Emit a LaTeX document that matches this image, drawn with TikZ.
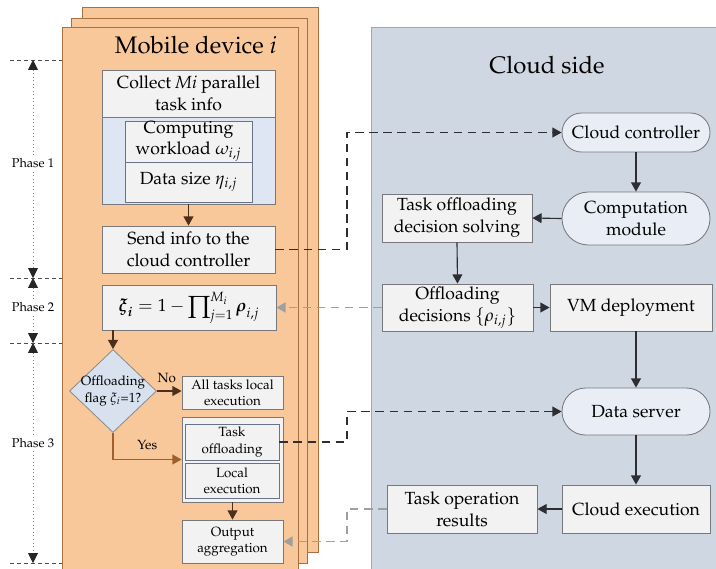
\documentclass[tikz,border=0pt]{standalone}
\usepackage{amsmath}
\usepackage[T1]{fontenc}
\usepackage{mathpazo}
\usetikzlibrary{arrows.meta,shapes.geometric,shapes.misc}

\definecolor{devfill}{RGB}{248,199,154}
\definecolor{devedge}{RGB}{168,112,62}
\definecolor{cloudfill}{RGB}{207,215,227}
\definecolor{cloudedge}{RGB}{160,166,178}
\definecolor{boxfill}{RGB}{242,242,243}
\definecolor{boxedge}{RGB}{120,120,122}
\definecolor{infoblue}{RGB}{221,230,242}
\definecolor{inedge}{RGB}{105,115,135}
\definecolor{flagfill}{RGB}{216,225,238}
\definecolor{podfill}{RGB}{233,238,246}
\definecolor{arrowdark}{RGB}{45,45,50}
\definecolor{arrowbrown}{RGB}{75,48,28}
\definecolor{yesbrown}{RGB}{160,96,45}

\begin{document}
\begin{tikzpicture}[x=0.025cm,y=-0.025cm,>={Triangle[length=6.5pt,width=7pt]},
  boxsize/.style 2 args={minimum width=#1*0.025cm,minimum height=#2*0.025cm},
  box/.style={draw=boxedge,fill=boxfill,line width=0.6pt,align=center,inner sep=0pt,
    font=\fontsize{12.5}{15.5}\selectfont},
  smallbox/.style={box,font=\fontsize{9.5}{11.5}\selectfont},
  inbox/.style={draw=inedge,fill=boxfill,line width=0.6pt,align=center,inner sep=0pt},
  pod/.style={box,fill=podfill,rounded rectangle},
  flow/.style={->,draw=arrowdark,line width=0.8pt},
  devflow/.style={flow,draw=arrowbrown},
  ask/.style={->,dash pattern=on 6pt off 4pt,line width=0.8pt,draw=arrowdark},
  reply/.style={->,dash pattern=on 6pt off 4pt,line width=1.4pt,draw=gray!75},
  phaseline/.style={dash pattern=on 3pt off 2pt,draw=gray!60!black,line width=0.6pt},
  phasespan/.style={{Triangle[length=7pt,width=7pt,color=black!85]}-{Triangle[length=7pt,width=7pt,color=black!85]},
    dotted,draw=gray,line width=0.5pt},
  phaselabel/.style={fill=white,inner sep=1pt,font=\fontsize{9}{10}\selectfont}]
  \useasboundingbox (0,0) rectangle (716,568);

  % stacked mobile devices, back to front
  \foreach \d in {20,9,0}
    \draw[draw=devedge,fill=devfill,line width=0.6pt] (62+\d,27-\d) rectangle (298+\d,572-\d);
  \node[font=\fontsize{17}{20}\selectfont] (devtitle) at (196,45) {Mobile device $i$};

  % cloud panel
  \draw[draw=cloudedge,fill=cloudfill,line width=0.6pt] (371,27) rectangle (725,575);
  \node[font=\fontsize{17}{20}\selectfont] (cloudtitle) at (547,65) {Cloud side};

  % phases
  \foreach \y in {60,278,343,563}
    \draw[phaseline] (10,\y) -- (62,\y);
  \draw[phasespan] (33,60) -- (33,278);
  \draw[phasespan] (33,278) -- (33,343);
  \draw[phasespan] (33,343) -- (33,563);
  \node[phaselabel] (phase1) at (33,163) {Phase 1};
  \node[phaselabel] (phase2) at (33,307) {Phase 2};
  \node[phaselabel] (phase3) at (33,443) {Phase 3};

  % device side
  \node[draw=boxedge,fill=infoblue,line width=0.6pt,boxsize={173}{134}] (info) at (188.5,137) {};
  \node[box,boxsize={173}{47}] (collect) at (188.5,93.5) {Collect \textit{Mi} parallel\\task info};
  \node[inbox,boxsize={127}{41},font=\fontsize{12.5}{14.5}\selectfont] (workload) at (188.5,141.5) {Computing\\workload $\omega_{i,j}$};
  \node[inbox,boxsize={127}{40},font=\fontsize{12.5}{14.5}\selectfont] (datasize) at (188.5,182) {Data size $\eta_{i,j}$};
  \node[box,boxsize={173}{47}] (send) at (188.5,249.5) {Send info to the\\cloud controller};
  \node[box,boxsize={174}{45}] (xi) at (189,307.5)
    {$\displaystyle\boldsymbol{\xi}_{\boldsymbol{i}}=1-\prod\nolimits_{j=1}^{M_i}\boldsymbol{\rho}_{i,j}$};
  \node[diamond,draw=gray!90,fill=flagfill,line width=0.6pt,inner sep=0pt,boxsize={87}{83},
    label={[align=center,font=\fontsize{9.5}{11.5}\selectfont]center:Offloading\\flag $\xi_i$=1?}] (flag) at (113,391) {};
  \node[smallbox,boxsize={101}{33}] (alltasks) at (232.5,392.5) {All tasks local\\execution};
  \node[box,boxsize={101}{85}] (offgrp) at (232.5,459.5) {};
  \node[inbox,boxsize={94}{36},font=\fontsize{9.5}{11.5}\selectfont] (taskoff) at (232,442) {Task\\offloading};
  \node[inbox,boxsize={94}{35},font=\fontsize{9.5}{11.5}\selectfont] (localexe) at (232,480.5) {Local\\execution};
  \node[smallbox,boxsize={101}{43}] (output) at (232.5,541.5) {Output\\aggregation};

  \draw[devflow] (info.south) -- (send.north);
  \draw[devflow] (xi.south -| flag.north) -- (flag.north);
  \draw[devflow] (flag.east) -- (flag.east -| alltasks.west)
    node[pos=0.4,above=2pt,font=\fontsize{9.5}{11}\selectfont] {No};
  \draw[->,draw=yesbrown,line width=0.9pt] (flag.south) |- (offgrp.west)
    node[pos=0.75,above=3pt,font=\fontsize{9.5}{11}\selectfont] {Yes};
  \draw[devflow] (offgrp.south) -- (output.north);

  % cloud side
  \node[pod,boxsize={148}{39}] (ctrl) at (636,132.5) {Cloud controller};
  \node[pod,boxsize={148}{53}] (comp) at (636,218.5) {Computation\\module};
  \node[box,boxsize={150}{48}] (solve) at (457,218) {Task offloading\\decision solving};
  \node[box,boxsize={151}{47}] (decis) at (457.5,307.5) {Offloading\\decisions $\{\rho_{i,j}\}$};
  \node[box,boxsize={162}{47}] (vm) at (631,307.5) {VM deployment};
  \node[pod,boxsize={148}{47}] (dserv) at (636,411.5) {Data server};
  \node[box,boxsize={148}{48}] (cexec) at (636,509) {Cloud execution};
  \node[box,boxsize={150}{48}] (tres) at (462,509) {Task operation\\results};

  \draw[flow] (ctrl.south) -- (comp.north);
  \draw[flow] (comp.west) -- (solve.east);
  \draw[flow] (solve.south) -- (decis.north);
  \draw[flow] (decis.east) -- (vm.west);
  \draw[flow] (dserv.north |- vm.south) -- (dserv.north);
  \draw[flow] (dserv.south) -- (cexec.north);
  \draw[flow] (cexec.west) -- (tres.east);

  % messages between device and cloud
  \coordinate (bend) at (347,0);
  \draw[ask] (send.east) -- (send.east -| bend) |- (ctrl.west);
  \draw[ask] (taskoff.east) -- (taskoff.east -| bend) |- (dserv.west);
  \draw[reply] (decis.west) -- (xi.east);
  \draw[reply] (tres.west) -- (tres.west -| bend) |- (output.east);
\end{tikzpicture}
\end{document}
